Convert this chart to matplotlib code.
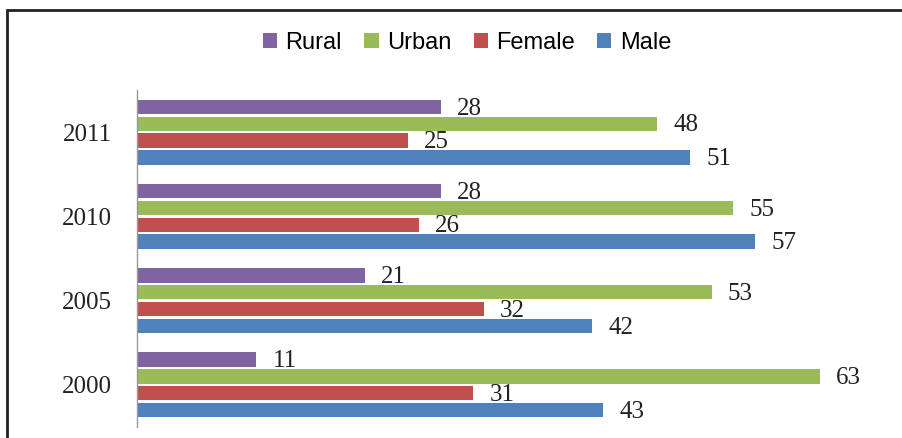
import numpy as np
import matplotlib.pyplot as plt
from matplotlib.patches import Rectangle

# Data
years = ['2000', '2005', '2010', '2011']
rural = [11, 21, 28, 28]
urban = [63, 53, 55, 48]
female = [31, 32, 26, 25]
male = [43, 42, 57, 51]

series = [('Rural', rural, '#8064A2'),
          ('Urban', urban, '#9BBB59'),
          ('Female', female, '#C0504D'),
          ('Male', male, '#4F81BD')]

fig = plt.figure(figsize=(9.03, 4.38), dpi=100)
ax = fig.add_axes([137/903, 11/438, 759/903, 337/438])

y = np.arange(len(years))
step = 0.2
h = 0.17
offsets = [1.5*step, 0.5*step, -0.5*step, -1.5*step]

handles = []
for (name, vals, col), off in zip(series, offsets):
    b = ax.barh(y + off, vals, height=h, color=col, label=name)
    handles.append(b)
    for yi, v in zip(y + off, vals):
        ax.text(v + 1.5, yi - 0.02, str(v), va='center', ha='left',
                family='Liberation Serif', fontsize=18, color='#222222')

ax.set_xlim(0, 70)
ax.set_ylim(-0.5, 3.5)
ax.set_yticks(y)
ax.set_yticklabels(years, family='Liberation Serif', fontsize=18, color='#222222')
ax.tick_params(axis='y', length=0, pad=18)
ax.set_xticks([])
for s in ['top', 'right', 'bottom']:
    ax.spines[s].set_visible(False)
ax.spines['left'].set_color('#999999')
ax.spines['left'].set_linewidth(1)

leg = fig.legend(handles=handles, loc='center', bbox_to_anchor=(467/903, 1 - 43/438),
                 ncol=4, frameon=False, handlelength=0.6, handleheight=0.6,
                 handletextpad=0.35, columnspacing=0.95,
                 prop={'family': 'Liberation Sans', 'size': 17})

# outer frame
fig.patches.append(Rectangle((7/903, -0.1), 1.0, 1 - 10/438 + 0.1,
                             transform=fig.transFigure, fill=False,
                             edgecolor='#222222', linewidth=2, clip_on=False))

fig.savefig('out.png', dpi=100)
